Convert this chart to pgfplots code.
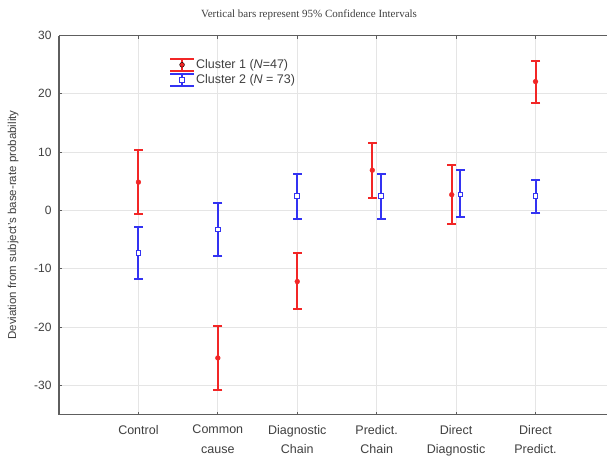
\documentclass[border=0pt]{standalone}
\usepackage{fontspec}
\setmainfont{Liberation Sans}
\newfontfamily\timesfont{Liberation Serif}
\usepackage{pgfplots}
\pgfplotsset{compat=1.18}
\usepackage{pgfplotstable}
\definecolor{cred}{rgb}{0.95,0.15,0.15}
\definecolor{cblue}{rgb}{0.2,0.2,0.95}
\definecolor{axgray}{rgb}{0.37,0.37,0.37}
\definecolor{txtgray}{rgb}{0.25,0.25,0.25}

\pgfplotstableread{
x y
1 4.85
2 -25.3
3 -12.2
3.945 6.9
4.945 2.7
6 22.1
}\clusterone

\pgfplotstableread{
x y
1 -7.3
2 -3.3
3 2.45
4.055 2.45
5.055 2.7
6 2.45
}\clustertwo

\pgfplotsset{
  redci/.style={draw=cred, line width=2pt, mark=-, mark size=4.5pt, mark options={solid, draw=cred, line width=2pt}, forget plot},
  blueci/.style={draw=cblue, line width=2pt, mark=-, mark size=4.5pt, mark options={solid, draw=cblue, line width=2pt}, forget plot},
}

\begin{document}
\begin{tikzpicture}
\fill[white] (0,0) rectangle (607pt,455pt);
\useasboundingbox (0,0) rectangle (607pt,455pt);
\begin{axis}[
  at={(59pt,40.5pt)}, anchor=south west, scale only axis,
  width=548pt, height=379pt,
  xmin=0, xmax=6.9, ymin=-35, ymax=30,
  axis x line=box, axis y line=left,
  axis line style={-, draw=axgray, line width=1.3pt},
  xtick={1,2,3,4,5,6},
  xticklabels={Control,{Common\\cause},{Diagnostic\\Chain},{Predict.\\Chain},{Direct\\Diagnostic},{Direct\\Predict.}},
  xticklabel style={align=center, font=\fontsize{12.5}{19.5}\selectfont, text=txtgray, yshift=-7pt},
  ytick={-30,-20,...,30},
  yticklabel style={font=\fontsize{12}{14}\selectfont, text=txtgray, xshift=-4pt},
  /pgf/number format/assume math mode=true,
  tick align=inside, major tick length=3pt,
  tick style={draw=axgray, line width=1pt},
  grid=major, grid style={draw=black!10, line width=0.8pt},
  ylabel={Deviation from subject's base-rate probability},
  ylabel style={at={(axis description cs:-0.0839,0.5)}, anchor=center, rotate=0, font=\fontsize{11.5}{13}\selectfont, text=txtgray},
  legend style={draw=none, fill=none, at={(axis description cs:0.195,0.947)}, anchor=north west,
    font=\fontsize{12.5}{14}\selectfont, text=txtgray, row sep=1pt, nodes={inner sep=1pt}},
  legend cell align=left,
  clip=false,
]
% Cluster 1 confidence intervals
\addplot[redci] coordinates {(1,-0.57) (1,10.3)};
\addplot[redci] coordinates {(2,-30.8) (2,-19.8)};
\addplot[redci] coordinates {(3,-16.9) (3,-7.3)};
\addplot[redci] coordinates {(3.945,2.1) (3.945,11.6)};
\addplot[redci] coordinates {(4.945,-2.3) (4.945,7.8)};
\addplot[redci] coordinates {(6,18.5) (6,25.7)};
% Cluster 2 confidence intervals
\addplot[blueci] coordinates {(1,-11.8) (1,-2.9)};
\addplot[blueci] coordinates {(2,-7.9) (2,1.2)};
\addplot[blueci] coordinates {(3,-1.5) (3,6.3)};
\addplot[blueci] coordinates {(4.055,-1.45) (4.055,6.2)};
\addplot[blueci] coordinates {(5.055,-1.2) (5.055,6.9)};
\addplot[blueci] coordinates {(6,-0.4) (6,5.3)};
% means
\addplot[only marks, mark=*, mark size=2.4pt, mark options={draw=cred, fill=cred},
  legend image code/.code={
    \draw[draw=cred, line width=2pt] (12pt,-6pt) -- (12pt,6pt);
    \draw[draw=cred, line width=2pt] (0pt,-6pt) -- (24pt,-6pt);
    \draw[draw=cred, line width=2pt] (0pt,6pt) -- (24pt,6pt);
    \fill[fill=cred] (12pt,0pt) circle (2.4pt);}]
  table[x=x, y=y] {\clusterone};
\addlegendentry{Cluster 1 (\textit{N}=47)}
\addplot[only marks, mark=square*, mark size=2.3pt, mark options={draw=cblue, fill=white, line width=1pt},
  legend image code/.code={
    \draw[draw=cblue, line width=2pt] (12pt,-6pt) -- (12pt,6pt);
    \draw[draw=cblue, line width=2pt] (0pt,-6pt) -- (24pt,-6pt);
    \draw[draw=cblue, line width=2pt] (0pt,6pt) -- (24pt,6pt);
    \filldraw[draw=cblue, fill=white, line width=1pt] (9.7pt,-2.3pt) rectangle (14.3pt,2.3pt);}]
  table[x=x, y=y] {\clustertwo};
\addlegendentry{Cluster 2 (\textit{N} = 73)}
\end{axis}
\node[font=\timesfont\fontsize{11}{13}\selectfont, text=txtgray] at (309pt,440pt) {Vertical bars represent 95\% Confidence Intervals};
\end{tikzpicture}
\end{document}
